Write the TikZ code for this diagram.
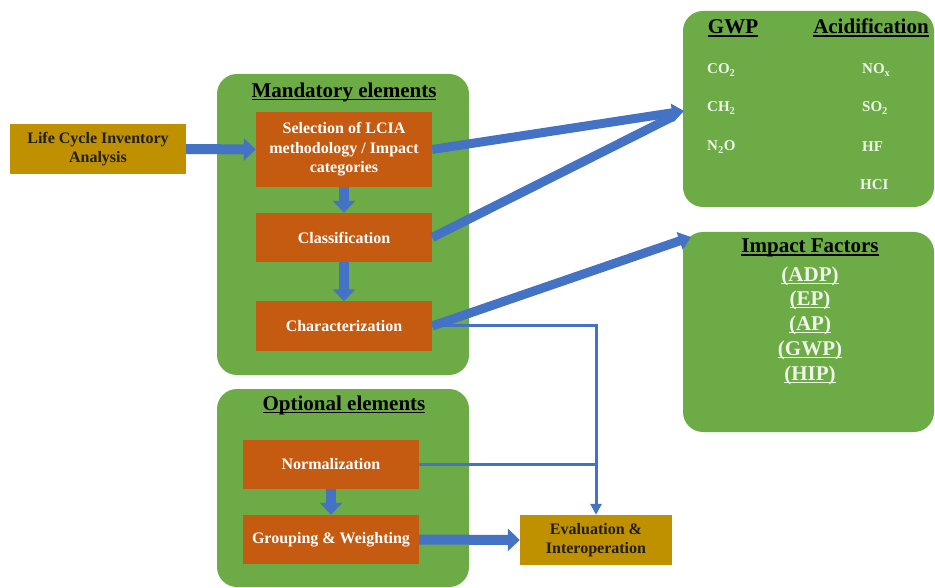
\documentclass[tikz,border=0pt]{standalone}
\usepackage{fontspec}
\setmainfont{Liberation Serif}
\usetikzlibrary{arrows.meta}

% underline with a thicker rule, in the current text colour
\newcommand{\thickul}[1]{\setbox0\hbox{#1}\rlap{\rule[-3.2pt]{\wd0}{1.6pt}}\box0}

\definecolor{leafgreen}{HTML}{6CAB45}
\definecolor{rust}{HTML}{C55A11}
\definecolor{ochre}{HTML}{BF9000}
\definecolor{flowblue}{HTML}{4472C4}
\definecolor{paleink}{HTML}{EEF6EA}

\begin{document}
\begin{tikzpicture}[x=1pt,y=-1pt,
  panel/.style={fill=leafgreen, rounded corners=20pt},
  stepbox/.style={fill=rust, text=white, align=center, inner sep=2pt,
    font=\bfseries\fontsize{16}{19.5}\selectfont,
    minimum width=176pt},
  endbox/.style={fill=ochre, text=black!88, align=center, inner sep=2pt,
    font=\bfseries\fontsize{16}{19.5}\selectfont},
  heading/.style={text=black, inner sep=1pt,
    font=\bfseries\fontsize{21}{25}\selectfont},
  gas/.style={text=paleink, anchor=west, inner sep=0pt,
    font=\bfseries\fontsize{15}{18}\selectfont},
  factor/.style={text=paleink, inner sep=0pt,
    font=\bfseries\fontsize{21}{25}\selectfont},
  bigflow/.style={draw=flowblue, line width=10pt,
    -{Triangle[width=22pt,length=12pt]}},
  slant/.style={draw=flowblue, line width=9pt},
  slantflow/.style={slant, -{Triangle[width=18pt,length=12pt]}},
  thinflow/.style={draw=flowblue, line width=3pt}
]
\useasboundingbox (0,0) rectangle (935,588);

% green panels
\path[panel] (217,74) rectangle (469,375);
\path[panel] (217,389) rectangle (469,587);
\path[panel] (683,11) rectangle (934,207);
\path[panel] (683,232) rectangle (934,432);

% panel headings
\node[heading] (mandT) at (344,92) {\thickul{Mandatory elements}};
\node[heading] (optT) at (344,405) {\thickul{Optional elements}};
\node[heading] (gwpT) at (733,28) {\thickul{GWP}};
\node[heading] (acidT) at (871,28) {\thickul{Acidification}};
\node[heading] (impT) at (810,248) {\thickul{Impact Factors}};

% gases
\node[gas] (co2) at (707,70) {CO\textsubscript{2}};
\node[gas] (ch2) at (707,108) {CH\textsubscript{2}};
\node[gas] (n2o) at (707,147) {N\textsubscript{2}O};
\node[gas] (nox) at (862,70) {NO\textsubscript{x}};
\node[gas] (so2) at (862,108) {SO\textsubscript{2}};
\node[gas] (hf) at (862,147) {HF};
\node[gas] (hci) at (860,185) {HCI};

% impact factor list
\node[factor] (adp) at (810,276) {\thickul{(ADP)}};
\node[factor] (ep) at (810,300) {\thickul{(EP)}};
\node[factor] (ap) at (810,325) {\thickul{(AP)}};
\node[factor] (gwpf) at (810,350) {\thickul{(GWP)}};
\node[factor] (hip) at (810,375) {\thickul{(HIP)}};

% entry points on the right-hand panels
\coordinate (gwpIn) at (684,111);
\coordinate (impIn) at (691,237);

% process boxes
\node[endbox, minimum width=176pt, minimum height=50pt] (lci) at (98,149)
  {Life Cycle Inventory\\Analysis};
\node[stepbox, minimum height=75pt] (sel) at (344,149.5)
  {Selection of LCIA\\methodology / Impact\\categories};
\node[stepbox, minimum height=49pt] (cls) at (344,237.5) {Classification};
\node[stepbox, minimum height=49pt] (chr) at (344,326) {Characterization};
\node[stepbox, minimum height=49pt] (nrm) at (331,464.5) {Normalization};
\node[stepbox, minimum height=49pt] (grp) at (331,539.5) {Grouping \& Weighting};
\node[endbox, minimum width=152pt, minimum height=50pt] (evl) at (596,540)
  {Evaluation \&\\Interoperation};

% thin connectors into the evaluation box
\draw[thinflow] (nrm.east) -- (nrm.east -| evl.north);
\draw[thinflow, -{Triangle[width=11pt,length=11pt]}]
  ([yshift=1pt]chr.east) -| (evl.north);

% thick flow arrows
\draw[bigflow] (lci.east) -- (sel.west);
\draw[bigflow] (sel.south) -- (cls.north);
\draw[bigflow] (cls.south) -- (chr.north);
\draw[bigflow] (nrm.south) -- (grp.north);
\draw[bigflow] (grp.east) -- (evl.west);

% slanted arrows to the right-hand panels
\draw[slant, shorten >=12pt] (cls.east) -- (gwpIn);
\draw[slantflow] (sel.east) -- (gwpIn);
\draw[slantflow] (chr.east) -- (impIn);
\end{tikzpicture}
\end{document}
